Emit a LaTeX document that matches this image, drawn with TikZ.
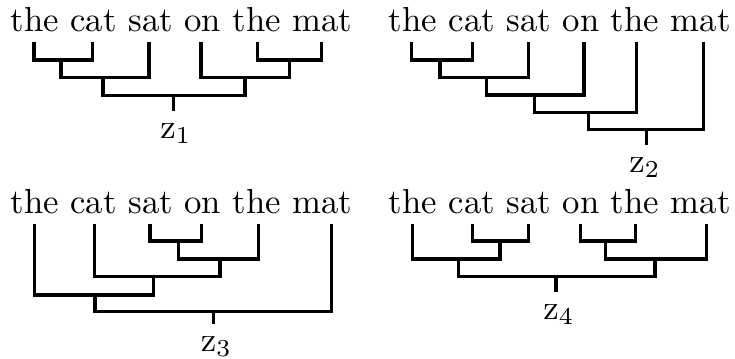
\documentclass[tikz,border=0pt]{standalone}
\begin{document}
\begin{tikzpicture}[
  x=0.288pt, y=-0.288pt,
  word/.style={anchor=base, inner sep=0pt},
  tag/.style={anchor=base, inner sep=3.5pt},
  br/.style={line width=1pt}
]
  \useasboundingbox (0,0) rectangle (735,358);

  \node[word] (w11) at (34.8,31.7) {the};
  \node[word] (w12) at (93.6,31.7) {cat};
  \node[word] (w13) at (150.6,31.7) {sat};
  \node[word] (w14) at (202.8,31.7) {on};
  \node[word] (w15) at (256.8,31.7) {the};
  \node[word] (w16) at (322.4,31.7) {mat};
  \coordinate (l11) at (34,42);
  \coordinate (l12) at (92.7,42);
  \coordinate (l13) at (149,42);
  \coordinate (l14) at (201,42);
  \coordinate (l15) at (257.7,42);
  \coordinate (l16) at (321.7,42);
  \coordinate (j11) at (61,60);
  \coordinate (j12) at (103,77.5);
  \coordinate (j13) at (289.3,60);
  \coordinate (j14) at (245,77.5);
  \coordinate (r1) at (173.3,95.5);
  \node[tag] (z1) at (176,138.3) {$\mathrm{z}_1$};

  \draw[br] (l11) |- (j11) -| (l12);
  \draw[br] (j11) |- (j12) -| (l13);
  \draw[br] (l15) |- (j13) -| (l16);
  \draw[br] (l14) |- (j14) -| (j13);
  \draw[br] (j12) |- (r1) -| (j14);
  \draw[br] (r1) -- (r1 |- z1.north);

  \node[word] (w21) at (413.1,31.7) {the};
  \node[word] (w22) at (471.9,31.7) {cat};
  \node[word] (w23) at (528.9,31.7) {sat};
  \node[word] (w24) at (581.1,31.7) {on};
  \node[word] (w25) at (635.1,31.7) {the};
  \node[word] (w26) at (700.7,31.7) {mat};
  \coordinate (l21) at (411.7,42);
  \coordinate (l22) at (472.3,42);
  \coordinate (l23) at (528.3,42);
  \coordinate (l24) at (584,42);
  \coordinate (l25) at (636.7,42);
  \coordinate (l26) at (703.3,42);
  \coordinate (j21) at (440,60);
  \coordinate (j22) at (486.7,77.3);
  \coordinate (j23) at (534.3,95);
  \coordinate (j24) at (588.3,112.3);
  \coordinate (r2) at (646.7,129.5);
  \node[tag] (z2) at (645,172.7) {$\mathrm{z}_2$};

  \draw[br] (l21) |- (j21) -| (l22);
  \draw[br] (j21) |- (j22) -| (l23);
  \draw[br] (j22) |- (j23) -| (l24);
  \draw[br] (j23) |- (j24) -| (l25);
  \draw[br] (j24) |- (r2) -| (l26);
  \draw[br] (r2) -- (r2 |- z2.north);

  \node[word] (w31) at (34.8,213.7) {the};
  \node[word] (w32) at (93.6,213.7) {cat};
  \node[word] (w33) at (150.6,213.7) {sat};
  \node[word] (w34) at (202.8,213.7) {on};
  \node[word] (w35) at (256.8,213.7) {the};
  \node[word] (w36) at (322.4,213.7) {mat};
  \coordinate (l31) at (34.3,224);
  \coordinate (l32) at (94.3,224);
  \coordinate (l33) at (150,224);
  \coordinate (l34) at (201.7,224);
  \coordinate (l35) at (258.3,224);
  \coordinate (l36) at (331.7,224);
  \coordinate (j31) at (178.3,241);
  \coordinate (j32) at (220,259);
  \coordinate (j33) at (153.3,276.7);
  \coordinate (j34) at (95,295);
  \coordinate (r3) at (213.3,311.7);
  \node[tag] (z3) at (216.5,351.5) {$\mathrm{z}_3$};

  \draw[br] (l33) |- (j31) -| (l34);
  \draw[br] (j31) |- (j32) -| (l35);
  \draw[br] (l32) |- (j33) -| (j32);
  \draw[br] (l31) |- (j34) -| (j33);
  \draw[br] (j34) |- (r3) -| (l36);
  \draw[br] (r3) -- (r3 |- z3.north);

  \node[word] (w41) at (413.1,213.7) {the};
  \node[word] (w42) at (471.9,213.7) {cat};
  \node[word] (w43) at (528.9,213.7) {sat};
  \node[word] (w44) at (581.1,213.7) {on};
  \node[word] (w45) at (635.1,213.7) {the};
  \node[word] (w46) at (700.7,213.7) {mat};
  \coordinate (l41) at (412.3,224);
  \coordinate (l42) at (472.3,224);
  \coordinate (l43) at (528.3,224);
  \coordinate (l44) at (580.7,224);
  \coordinate (l45) at (635.7,224);
  \coordinate (l46) at (706.7,224);
  \coordinate (j41) at (500,241);
  \coordinate (j42) at (605.3,241);
  \coordinate (j43) at (458.3,259);
  \coordinate (j44) at (655,259);
  \coordinate (r4) at (556,276.7);
  \node[tag] (z4) at (559,319.5) {$\mathrm{z}_4$};

  \draw[br] (l42) |- (j41) -| (l43);
  \draw[br] (l44) |- (j42) -| (l45);
  \draw[br] (l41) |- (j43) -| (j41);
  \draw[br] (j42) |- (j44) -| (l46);
  \draw[br] (j43) |- (r4) -| (j44);
  \draw[br] (r4) -- (r4 |- z4.north);
\end{tikzpicture}
\end{document}
